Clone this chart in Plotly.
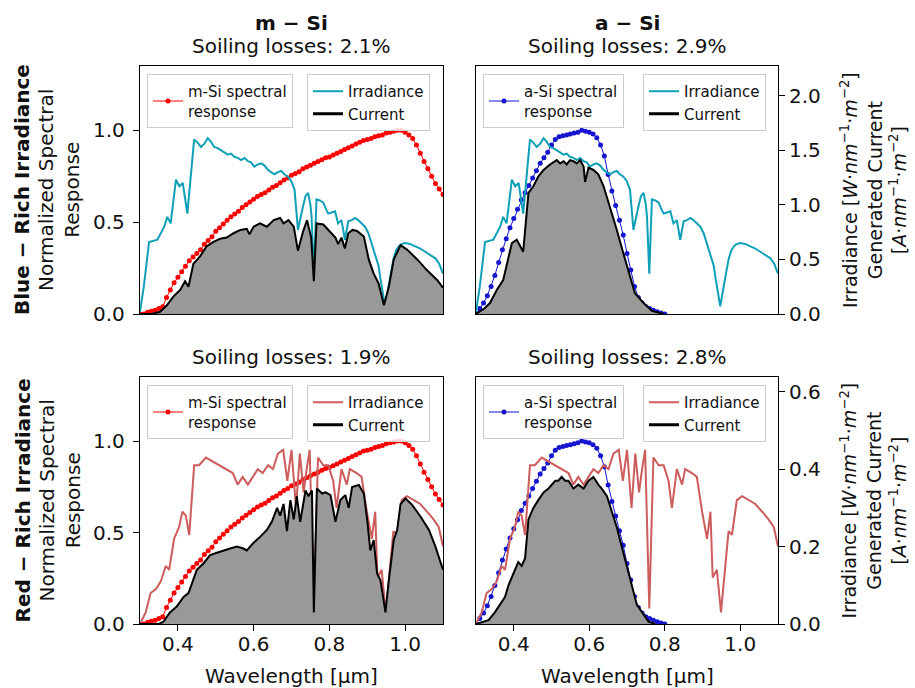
import plotly.graph_objects as go

# ---------------- data ----------------
# normalized spectral responses (left axis)
sr_msi_wl = [0.30,0.31,0.32,0.33,0.34,0.35,0.36,0.37,0.38,0.39,0.40,0.41,0.42,0.43,0.44,0.45,0.46,0.47,0.48,0.49,
             0.50,0.51,0.52,0.53,0.54,0.55,0.56,0.57,0.58,0.59,0.60,0.61,0.62,0.63,0.64,0.65,0.66,0.67,0.68,0.69,
             0.70,0.71,0.72,0.73,0.74,0.75,0.76,0.77,0.78,0.79,0.80,0.81,0.82,0.83,0.84,0.85,0.86,0.87,0.88,0.89,
             0.90,0.91,0.92,0.93,0.94,0.95,0.96,0.97,0.98,0.99,1.00,1.01,1.02,1.03,1.04,1.05,1.06,1.07,1.08,1.09,1.10]
sr_msi = [0.00,0.00,0.01,0.015,0.02,0.03,0.04,0.09,0.13,0.17,0.20,0.23,0.26,0.29,0.31,0.33,0.35,0.38,0.40,0.42,
          0.45,0.47,0.49,0.51,0.53,0.545,0.56,0.58,0.595,0.61,0.625,0.64,0.65,0.66,0.675,0.69,0.70,0.715,0.73,0.74,
          0.755,0.765,0.775,0.79,0.80,0.81,0.82,0.83,0.84,0.85,0.855,0.865,0.875,0.885,0.895,0.905,0.915,0.925,0.935,0.945,
          0.95,0.955,0.965,0.97,0.975,0.985,0.99,0.995,1.00,1.00,0.99,0.975,0.955,0.92,0.875,0.83,0.79,0.75,0.71,0.68,0.65]

sr_asi_wl = [0.30,0.31,0.32,0.33,0.34,0.35,0.36,0.37,0.38,0.39,0.40,0.41,0.42,0.43,0.44,0.45,0.46,0.47,0.48,0.49,
             0.50,0.51,0.52,0.53,0.54,0.55,0.56,0.57,0.58,0.59,0.60,0.61,0.62,0.63,0.64,0.65,0.66,0.67,0.68,0.69,
             0.70,0.71,0.72,0.73,0.74,0.75,0.76,0.77,0.78,0.79,0.80]
sr_asi = [0.00,0.03,0.06,0.10,0.15,0.21,0.28,0.35,0.41,0.47,0.52,0.57,0.62,0.66,0.70,0.74,0.78,0.82,0.85,0.88,
          0.92,0.95,0.965,0.97,0.975,0.98,0.985,0.99,1.00,0.995,0.99,0.98,0.96,0.92,0.86,0.76,0.67,0.59,0.51,0.43,
          0.33,0.24,0.15,0.09,0.06,0.04,0.03,0.02,0.012,0.006,0.00]

# blue-rich irradiance (right axis)
irr_blue_wl = [0.300,0.310,0.324,0.346,0.364,0.372,0.381,0.395,0.404,0.413,0.425,0.443,0.452,0.461,0.470,0.479,0.487,
               0.496,0.505,0.514,0.523,0.532,0.540,0.549,0.558,0.567,0.576,0.585,0.593,0.602,0.611,0.620,0.629,0.638,
               0.646,0.655,0.664,0.673,0.681,0.690,0.699,0.708,0.717,0.723,0.730,0.737,0.744,0.750,0.753,0.759,0.766,
               0.775,0.784,0.790,0.797,0.806,0.815,0.823,0.832,0.841,0.850,0.859,0.868,0.876,0.885,0.894,0.903,0.910,
               0.916,0.925,0.930,0.934,0.940,0.947,0.956,0.962,0.969,0.976,0.983,0.990,1.000,1.014,1.027,1.040,1.053,
               1.067,1.080,1.090,1.100]
irr_blue = [0.02,0.25,0.66,0.68,0.80,0.89,0.83,1.23,1.17,1.20,0.92,1.60,1.57,1.53,1.56,1.61,1.58,
            1.53,1.52,1.50,1.48,1.46,1.47,1.44,1.43,1.41,1.43,1.40,1.39,1.35,1.37,1.38,1.36,1.32,
            1.30,1.28,1.30,1.31,1.28,1.26,1.22,1.14,0.77,0.88,0.98,1.08,1.11,1.00,0.89,0.37,1.05,
            1.04,1.02,0.97,0.92,0.93,0.94,0.83,0.86,0.68,0.85,0.86,0.88,0.86,0.83,0.80,0.74,0.66,
            0.59,0.50,0.44,0.34,0.20,0.07,0.25,0.38,0.50,0.58,0.62,0.64,0.65,0.64,0.62,0.60,0.57,
            0.54,0.51,0.46,0.37]

# red-rich irradiance (right axis)
irr_red_wl = [0.300,0.315,0.328,0.342,0.355,0.368,0.377,0.390,0.403,0.412,0.421,0.430,0.443,0.456,0.474,0.492,0.510,
              0.527,0.545,0.558,0.571,0.585,0.598,0.611,0.624,0.638,0.651,0.664,0.678,0.689,0.700,0.712,0.722,0.732,
              0.740,0.748,0.759,0.770,0.784,0.797,0.810,0.819,0.832,0.846,0.854,0.872,0.885,0.899,0.912,0.921,0.927,
              0.938,0.949,0.960,0.969,0.978,0.991,1.005,1.022,1.040,1.058,1.075,1.089,1.100]
irr_red = [0.00,0.03,0.08,0.09,0.11,0.15,0.14,0.22,0.25,0.29,0.28,0.23,0.41,0.41,0.43,0.42,0.41,
           0.40,0.39,0.36,0.38,0.36,0.38,0.40,0.39,0.41,0.40,0.44,0.45,0.37,0.45,0.30,0.44,0.34,
           0.40,0.45,0.04,0.43,0.41,0.41,0.37,0.30,0.40,0.36,0.40,0.39,0.38,0.29,0.22,0.29,0.12,
           0.14,0.03,0.15,0.24,0.23,0.32,0.33,0.32,0.31,0.29,0.27,0.25,0.20]

# generated current (right axis)
cur_blue_msi_wl = [0.300,0.330,0.353,0.371,0.388,0.406,0.419,0.428,0.441,0.459,0.476,0.494,0.512,0.529,0.547,0.565,
                   0.582,0.589,0.600,0.617,0.635,0.653,0.670,0.679,0.692,0.706,0.717,0.730,0.741,0.752,0.759,0.766,
                   0.784,0.797,0.806,0.816,0.823,0.832,0.841,0.850,0.861,0.873,0.891,0.904,0.917,0.930,0.944,0.957,
                   0.970,0.988,1.005,1.032,1.058,1.085,1.100]
cur_blue_msi = [0.00,0.00,0.02,0.08,0.16,0.22,0.30,0.25,0.46,0.53,0.62,0.66,0.69,0.70,0.74,0.77,
                0.78,0.73,0.80,0.83,0.80,0.86,0.88,0.83,0.86,0.80,0.58,0.75,0.86,0.70,0.30,0.83,
                0.82,0.77,0.74,0.70,0.64,0.70,0.60,0.74,0.77,0.76,0.71,0.50,0.37,0.28,0.08,0.25,
                0.50,0.63,0.59,0.50,0.40,0.31,0.24]

cur_blue_asi_wl = [0.300,0.322,0.337,0.355,0.372,0.386,0.395,0.408,0.417,0.425,0.439,0.452,0.465,0.479,0.496,0.514,
                   0.523,0.532,0.540,0.549,0.558,0.567,0.576,0.585,0.589,0.598,0.611,0.624,0.638,0.655,0.673,0.690,
                   0.708,0.721,0.744,0.766,0.797]
cur_blue_asi = [0.00,0.05,0.10,0.22,0.31,0.50,0.65,0.68,0.62,0.57,1.11,1.17,1.26,1.32,1.37,1.41,
                1.38,1.40,1.37,1.41,1.40,1.38,1.41,1.35,1.21,1.34,1.32,1.28,1.17,0.98,0.77,0.56,
                0.34,0.19,0.10,0.03,0.00]

cur_red_msi_wl = [0.300,0.350,0.362,0.379,0.397,0.415,0.428,0.437,0.450,0.468,0.485,0.503,0.520,0.538,0.556,0.573,
                  0.582,0.600,0.617,0.635,0.648,0.662,0.670,0.679,0.688,0.697,0.706,0.714,0.723,0.737,0.745,0.754,
                  0.759,0.767,0.781,0.790,0.803,0.816,0.829,0.842,0.851,0.860,0.878,0.891,0.900,0.908,0.917,0.926,
                  0.935,0.948,0.957,0.970,0.979,0.988,1.001,1.019,1.041,1.063,1.080,1.100]
cur_red_msi = [0.00,0.00,0.006,0.03,0.045,0.07,0.08,0.105,0.14,0.157,0.178,0.184,0.19,0.195,0.20,0.195,
               0.19,0.21,0.225,0.243,0.264,0.30,0.28,0.31,0.24,0.32,0.27,0.33,0.264,0.345,0.33,0.345,
               0.03,0.35,0.337,0.34,0.333,0.264,0.32,0.333,0.30,0.354,0.359,0.337,0.268,0.19,0.217,0.13,
               0.113,0.03,0.113,0.217,0.243,0.31,0.324,0.307,0.277,0.243,0.20,0.14]

cur_red_asi_wl = [0.300,0.333,0.350,0.364,0.377,0.386,0.399,0.412,0.421,0.430,0.439,0.452,0.465,0.479,0.492,0.510,
                  0.518,0.527,0.536,0.545,0.558,0.571,0.585,0.598,0.611,0.624,0.633,0.647,0.660,0.673,0.686,0.700,
                  0.713,0.726,0.740,0.757,0.775]
cur_red_asi = [0.00,0.01,0.03,0.05,0.07,0.10,0.13,0.16,0.15,0.17,0.27,0.30,0.32,0.34,0.35,0.37,
               0.37,0.38,0.37,0.37,0.35,0.36,0.35,0.37,0.38,0.36,0.35,0.33,0.29,0.25,0.20,0.15,
               0.10,0.05,0.03,0.006,0.00]

col_titles = ["m − Si", "a − Si"]
soiling = [["2.1%", "2.9%"], ["1.9%", "2.8%"]]
row_titles = ["Blue − Rich Irradiance", "Red − Rich Irradiance"]
x_ticks = [0.4, 0.6, 0.8, 1.0]
left_ticks = [0.0, 0.5, 1.0]
right_ticks = [[0.0, 0.5, 1.0, 1.5, 2.0], [0.0, 0.2, 0.4, 0.6]]

# ---------------- styling ----------------
FONT = "DejaVu Sans"
W, H = 915, 688
TEAL = "#0fa0b8"
SALMON = "#cd5c5c"
RED = "#ff0000"
BLUE = "#1515d0"
GREY = "#999999"

def px_x(p):
    return p / W

def px_y(p):
    return 1 - p / H

col_px = [(140, 443), (476, 778)]
row_px = [(66, 314), (377, 624)]
left_range = [0, 1.35]
right_range = [[0, 2.272], [0, 0.638]]

fig = go.Figure()

panels = [
    (0, 0, sr_msi_wl, sr_msi, RED, "m-Si spectral<br>response", irr_blue_wl, irr_blue, TEAL, cur_blue_msi_wl, cur_blue_msi),
    (0, 1, sr_asi_wl, sr_asi, BLUE, "a-Si spectral<br>response", irr_blue_wl, irr_blue, TEAL, cur_blue_asi_wl, cur_blue_asi),
    (1, 0, sr_msi_wl, sr_msi, RED, "m-Si spectral<br>response", irr_red_wl, irr_red, SALMON, cur_red_msi_wl, cur_red_msi),
    (1, 1, sr_asi_wl, sr_asi, BLUE, "a-Si spectral<br>response", irr_red_wl, irr_red, SALMON, cur_red_asi_wl, cur_red_asi),
]

layout = {}
annotations = []
for i, (r, c, swl, sv, scol, sname, iwl, iv, icol, cwl, cv) in enumerate(panels):
    n = i + 1
    xa = "x" if n == 1 else f"x{n}"
    ya = "y" if n == 1 else f"y{n}"
    ya2 = f"y{n + 4}"
    leg_a = "legend" if n == 1 else f"legend{2 * n - 1}"
    leg_b = f"legend{2 * n}"

    fig.add_trace(go.Scatter(x=swl, y=sv, xaxis=xa, yaxis=ya, mode="lines+markers",
                             line=dict(color=scol, width=1), marker=dict(color=scol, size=5),
                             name=sname, legend=leg_a, showlegend=True))
    fig.add_trace(go.Scatter(x=iwl, y=iv, xaxis=xa, yaxis=ya2, mode="lines",
                             line=dict(color=icol, width=2), name="Irradiance", legend=leg_b))
    fig.add_trace(go.Scatter(x=cwl, y=cv, xaxis=xa, yaxis=ya2, mode="lines",
                             line=dict(color="black", width=2), fill="tozeroy", fillcolor=GREY,
                             name="Current", showlegend=False, legend=leg_b))
    fig.add_trace(go.Scatter(x=[None], y=[None], xaxis=xa, yaxis=ya2, mode="lines",
                             line=dict(color="black", width=3), name="Current", legend=leg_b))

    x0, x1 = col_px[c]
    y0, y1 = row_px[r]
    xkey = "xaxis" if n == 1 else f"xaxis{n}"
    ykey = "yaxis" if n == 1 else f"yaxis{n}"
    y2key = f"yaxis{n + 4}"
    layout[xkey] = dict(domain=[px_x(x0), px_x(x1)], range=[0.3, 1.1], anchor=ya,
                        showline=True, mirror=True, linecolor="black", linewidth=1.3,
                        showgrid=False, zeroline=False, automargin=False,
                        tickvals=x_ticks, ticktext=[f"{v:.1f}" for v in x_ticks],
                        ticks="outside" if r == 1 else "", ticklen=6, tickwidth=1.2, tickcolor="black",
                        showticklabels=(r == 1), ticklabelstandoff=-4,
                        tickfont=dict(family=FONT, size=20, color="#111"))
    layout[ykey] = dict(domain=[px_y(y1), px_y(y0)], range=left_range, anchor=xa,
                        showline=True, mirror=True, linecolor="black", linewidth=1.3,
                        showgrid=False, zeroline=False, automargin=False,
                        tickvals=left_ticks, ticktext=[f"{v:.1f}" for v in left_ticks],
                        ticks="outside" if c == 0 else "", ticklen=6, tickwidth=1.2, tickcolor="black",
                        showticklabels=(c == 0), ticklabelstandoff=4,
                        tickfont=dict(family=FONT, size=20, color="#111"))
    rt = right_ticks[r]
    layout[y2key] = dict(overlaying=ya, anchor=xa, side="right", range=right_range[r],
                         showline=False, showgrid=False, zeroline=False, automargin=False,
                         tickvals=rt, ticktext=[f"{v:.1f}" for v in rt],
                         ticks="outside" if c == 1 else "", ticklen=6, tickwidth=1.2, tickcolor="black",
                         showticklabels=(c == 1), ticklabelstandoff=0,
                         tickfont=dict(family=FONT, size=20, color="#111"))

    legstyle = dict(font=dict(family=FONT, size=15, color="#111"), bgcolor="rgba(255,255,255,0.85)",
                    bordercolor="#cccccc", borderwidth=1, itemwidth=30, tracegroupgap=0,
                    xanchor="left", yanchor="top", xref="paper", yref="paper", visible=True)
    layout[leg_a] = dict(legstyle, x=px_x(x0 + 7), y=px_y(y0 + 8))
    layout[leg_b] = dict(legstyle, x=px_x(x0 + 167), y=px_y(y0 + 8))

    annotations.append(dict(text=f"Soiling losses: {soiling[r][c]}", x=px_x((x0 + x1) / 2),
                            y=px_y(y0 - 20), xref="paper", yref="paper", showarrow=False,
                            xanchor="center", yanchor="middle",
                            font=dict(family=FONT, size=20, color="#111")))
    if r == 0:
        annotations.append(dict(text=f"<b>{col_titles[c]}</b>", x=px_x((x0 + x1) / 2),
                                y=px_y(23), xref="paper", yref="paper", showarrow=False,
                                xanchor="center", yanchor="middle",
                                font=dict(family=FONT, size=20, color="#111")))
    if r == 1:
        annotations.append(dict(text="Wavelength [µm]", x=px_x((x0 + x1) / 2),
                                y=px_y(676), xref="paper", yref="paper", showarrow=False,
                                xanchor="center", yanchor="middle",
                                font=dict(family=FONT, size=20, color="#111")))
    if c == 0:
        yc = (y0 + y1) / 2
        annotations.append(dict(text=f"<b>{row_titles[r]}</b>", x=px_x(22), y=px_y(yc),
                                xref="paper", yref="paper", showarrow=False, textangle=-90,
                                xanchor="center", yanchor="middle",
                                font=dict(family=FONT, size=20, color="#111")))
        annotations.append(dict(text="Normalized Spectral<br>Response", x=px_x(59), y=px_y(yc),
                                xref="paper", yref="paper", showarrow=False, textangle=-90,
                                xanchor="center", yanchor="middle",
                                font=dict(family=FONT, size=20, color="#111")))
    if c == 1:
        yc = (y0 + y1) / 2
        lbl = ("Irradiance [<i>W</i>·<i>nm</i><sup>−1</sup>·<i>m</i><sup>−2</sup>]<br>"
               "Generated Current<br>"
               "[<i>A</i>·<i>nm</i><sup>−1</sup>·<i>m</i><sup>−2</sup>]")
        annotations.append(dict(text=lbl, x=px_x(873), y=px_y(yc),
                                xref="paper", yref="paper", showarrow=False, textangle=-90,
                                xanchor="center", yanchor="middle",
                                font=dict(family=FONT, size=19, color="#111")))

fig.update_layout(width=W, height=H, autosize=False, margin=dict(l=0, r=0, t=0, b=0, pad=0, autoexpand=False),
                  paper_bgcolor="white", plot_bgcolor="white", showlegend=True,
                  font=dict(family=FONT, size=20, color="#111"),
                  annotations=annotations, **layout)

fig.write_html("out.html", config={"responsive": False})
